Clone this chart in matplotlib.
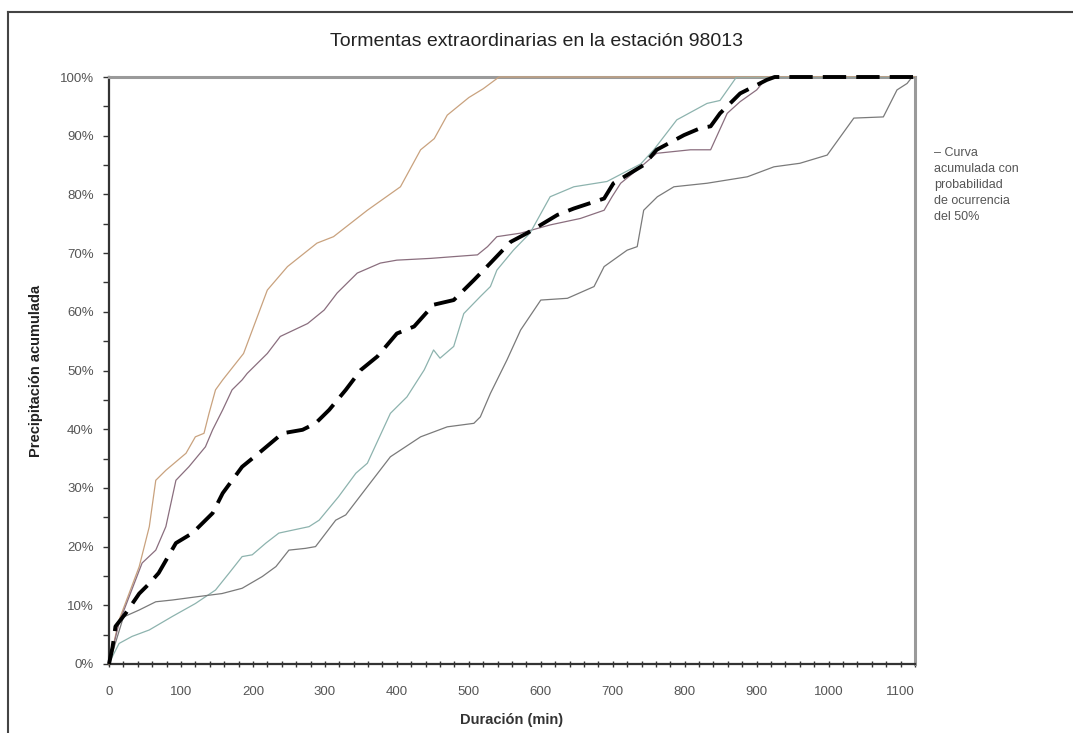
import matplotlib
matplotlib.use("Agg")
import matplotlib.pyplot as plt
from matplotlib.ticker import MultipleLocator, FuncFormatter
from matplotlib.lines import Line2D

plt.rcParams['font.family'] = ['Liberation Sans', 'DejaVu Sans']

# ---- data (duration in min, cumulative precipitation in %) ----
tan_x = [0, 14, 42, 56, 65, 79, 107, 120, 132, 139, 148, 158, 187, 220, 248, 289, 312, 359, 405, 433, 452, 470, 500, 520, 542, 1120]
tan_y = [0, 7.5, 16.6, 23.4, 31.3, 33, 35.9, 38.7, 39.3, 42.7, 46.7, 48.4, 52.9, 63.7, 67.7, 71.7, 72.8, 77.3, 81.3, 87.6, 89.5, 93.5, 96.5, 98, 100, 100]

purple_x = [0, 14, 46, 65, 79, 93, 111, 134, 144, 158, 171, 185, 192, 220, 238, 257, 276, 299, 317, 345, 377, 400, 447, 479, 512, 526, 539, 572, 613, 655, 688, 699, 711, 739, 761, 808, 836, 859, 877, 900, 915, 1120]
purple_y = [0, 7, 17.2, 19.4, 23.4, 31.3, 33.6, 37, 39.9, 43.3, 46.7, 48.4, 49.5, 52.9, 55.8, 56.9, 58, 60.3, 63.2, 66.6, 68.3, 68.8, 69.1, 69.4, 69.7, 71.1, 72.8, 73.4, 74.8, 75.9, 77.3, 79.6, 81.9, 84.7, 87, 87.6, 87.6, 93.8, 95.8, 97.8, 100, 100]

teal_x = [0, 2.4, 14, 32, 56, 88, 120, 148, 167, 185, 199, 218, 236, 255, 278, 292, 319, 343, 359, 391, 414, 438, 451, 460, 479, 493, 516, 530, 539, 562, 585, 613, 646, 692, 739, 757, 789, 831, 849, 872, 1120]
teal_y = [0, 0.7, 3.5, 4.7, 5.8, 8.1, 10.3, 12.6, 15.5, 18.3, 18.6, 20.6, 22.3, 22.8, 23.4, 24.5, 28.5, 32.5, 34.2, 42.7, 45.5, 50.1, 53.5, 52.1, 54.1, 59.7, 62.6, 64.3, 67.1, 70.5, 73.4, 79.6, 81.3, 82.2, 85.2, 87.6, 92.7, 95.5, 96, 100, 100]

gray_x = [0, 20, 42, 65, 88, 125, 157, 185, 213, 232, 250, 273, 287, 315, 329, 359, 391, 433, 470, 507, 516, 530, 553, 572, 600, 637, 674, 688, 720, 734, 743, 762, 785, 831, 887, 924, 960, 998, 1035, 1076, 1095, 1109, 1116, 1120]
gray_y = [0, 8, 9.2, 10.6, 10.9, 11.5, 12, 12.9, 14.9, 16.6, 19.4, 19.7, 20, 24.5, 25.4, 30.2, 35.3, 38.7, 40.4, 41, 42.1, 46.1, 51.8, 56.9, 62, 62.3, 64.3, 67.7, 70.5, 71.1, 77.3, 79.6, 81.3, 81.9, 83, 84.7, 85.3, 86.7, 93, 93.2, 97.8, 98.9, 100, 100]

median_x = [0, 5, 9, 23, 42, 56, 69, 93, 116, 144, 158, 185, 208, 241, 269, 287, 306, 329, 350, 373, 400, 424, 451, 479, 507, 530, 558, 581, 623, 646, 688, 701, 743, 761, 799, 822, 836, 849, 859, 877, 914, 925, 1120]
median_y = [0, 2.9, 6.4, 8.6, 12, 13.7, 15.5, 20.6, 22.3, 25.7, 29.1, 33.6, 35.9, 39.3, 39.9, 41, 43.3, 46.7, 50.1, 52.4, 56.3, 57.5, 61.2, 62, 65.4, 68.3, 71.9, 73.4, 76.5, 77.6, 79.3, 81.9, 85, 87.6, 90.1, 91.3, 91.6, 93.8, 95, 97.2, 99.5, 100, 100]

title = "Tormentas extraordinarias en la estación 98013"
xlabel = "Duración (min)"
ylabel = "Precipitación acumulada"
legend_text = "– Curva\nacumulada con\nprobabilidad\nde ocurrencia\ndel 50%"

# ---- figure ----
fig = plt.figure(figsize=(10.73, 7.33), dpi=100)
ax = fig.add_axes([109/1073, 69/733, (915-109)/1073, (664-77)/733])

ax.plot(tan_x, tan_y, color='#c9a27e', lw=0.9, zorder=3, clip_on=False)
ax.plot(purple_x, purple_y, color='#8a6e7e', lw=0.9, zorder=3)
ax.plot(teal_x, teal_y, color='#8db3ae', lw=0.9, zorder=3)
ax.plot(gray_x, gray_y, color='#7a7a7a', lw=0.9, zorder=3)
ax.plot(median_x, median_y, color='black', lw=2.8, dashes=(6, 2.6),
        zorder=5, clip_on=False, solid_capstyle='butt', dash_capstyle='butt')

ax.set_xlim(0, 1120)
ax.set_ylim(0, 100)
ax.xaxis.set_major_locator(MultipleLocator(100))
ax.xaxis.set_minor_locator(MultipleLocator(20))
ax.yaxis.set_major_locator(MultipleLocator(10))
ax.yaxis.set_minor_locator(MultipleLocator(5))
ax.yaxis.set_major_formatter(FuncFormatter(lambda v, p: f"{int(round(v))}%"))

ax.tick_params(axis='x', which='both', direction='inout', length=5, width=1,
               color='#333333', labelsize=9.5, labelcolor='#555555', pad=13)
ax.tick_params(axis='y', which='both', direction='out', length=4, width=1,
               color='#333333', labelsize=9.5, labelcolor='#555555', pad=7)

for s in ['left', 'bottom']:
    ax.spines[s].set_color('#333333')
    ax.spines[s].set_linewidth(1.6)
for s in ['top', 'right']:
    ax.spines[s].set_color('#9a9a9a')
    ax.spines[s].set_linewidth(2.2)

ax.set_xlabel(xlabel, fontsize=10.5, fontweight='bold', color='#333333', labelpad=11)
ax.set_ylabel(ylabel, fontsize=10.5, fontweight='bold', color='#222222', labelpad=12)
fig.text(537/1073, 1 - 41/733, title, ha='center', va='center', fontsize=14, color='#222222')

fig.text(934/1073, 1 - 147/733, legend_text, ha='left', va='top', fontsize=9,
         color='#555555', linespacing=1.45)

# outer frame of the screenshot
fig.add_artist(Line2D([8/1073, 1], [1 - 12/733, 1 - 12/733], transform=fig.transFigure,
                      color='#444444', lw=1.5))
fig.add_artist(Line2D([8/1073, 8/1073], [0, 1 - 12/733], transform=fig.transFigure,
                      color='#444444', lw=1.5))

fig.savefig("out.png", dpi=100)
